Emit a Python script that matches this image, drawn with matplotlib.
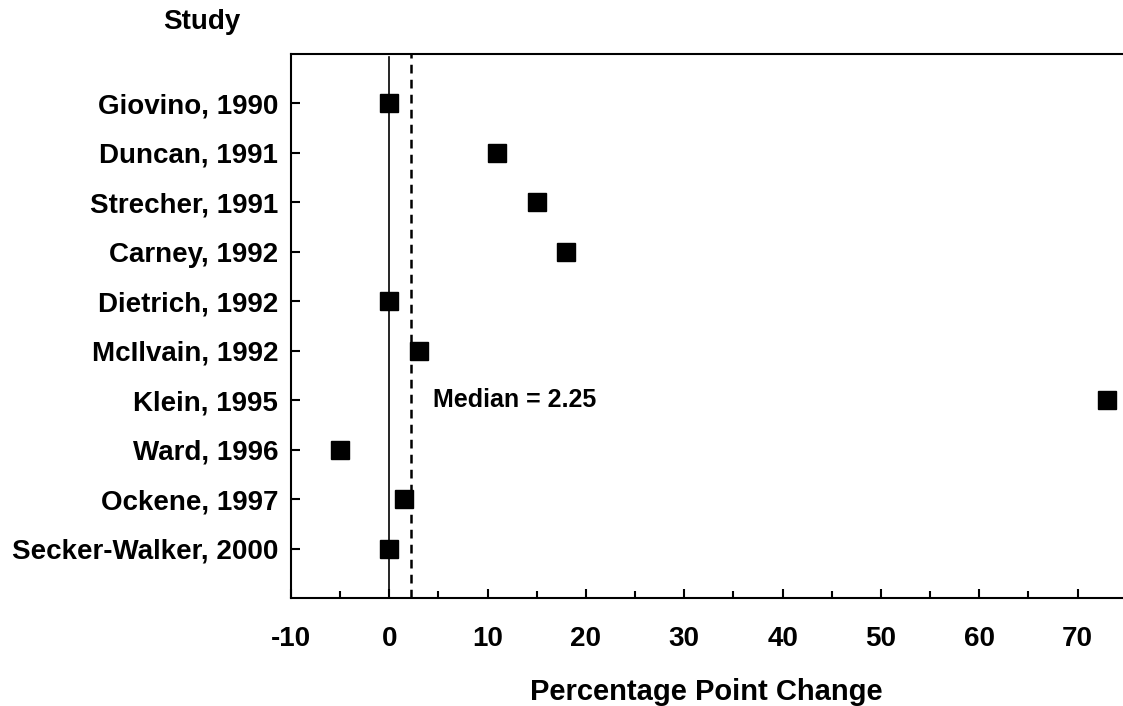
import matplotlib
matplotlib.use("Agg")
import matplotlib.pyplot as plt
from matplotlib.ticker import MultipleLocator

studies = ["Giovino, 1990", "Duncan, 1991", "Strecher, 1991", "Carney, 1992",
           "Dietrich, 1992", "McIlvain, 1992", "Klein, 1995", "Ward, 1996",
           "Ockene, 1997", "Secker-Walker, 2000"]
changes = [0, 11, 15, 18, 0, 3, 73, -5, 1.5, 0]
median_value = 2.25
x_ticks = [-10, 0, 10, 20, 30, 40, 50, 60, 70]

plt.rcParams['font.family'] = ['Liberation Sans', 'DejaVu Sans']
plt.rcParams['font.weight'] = 'bold'

fig = plt.figure(figsize=(11.23, 7.06), dpi=100)
ax = fig.add_axes([0.259, 0.153, 0.740, 0.7705])

ypos = list(range(1, len(studies) + 1))
ax.axvline(0, color='black', lw=1.2, ymin=0, ymax=0.995, zorder=1)
ax.axvline(median_value, color='black', lw=1.8, ls=(0, (3.5, 2.5)), zorder=1)
ax.plot(changes, ypos, ls='none', marker='s', ms=12.5, color='black', zorder=3)

ax.text(4.5, 7, f"Median = {median_value}", fontsize=18, fontweight='bold',
        va='center', ha='left')

ax.set_xlim(-10, 74.5)
ax.set_ylim(11, 0)
ax.set_xticks(x_ticks)
ax.set_xticklabels([str(t) for t in x_ticks])
ax.xaxis.set_minor_locator(MultipleLocator(5))
ax.set_yticks(ypos)
ax.set_yticklabels(studies)

for s in ['left', 'top', 'bottom']:
    ax.spines[s].set_linewidth(1.5)
ax.spines['right'].set_visible(False)

ax.tick_params(axis='x', which='major', direction='in', length=6.5, width=1.5,
               labelsize=20, pad=20)
ax.tick_params(axis='x', which='minor', direction='in', length=4.8, width=1.5)
ax.tick_params(axis='y', which='major', direction='in', length=6.5, width=1.5,
               labelsize=20, pad=9)
for lab in ax.get_xticklabels() + ax.get_yticklabels():
    lab.set_fontweight('bold')

ax.set_xlabel("Percentage Point Change", fontsize=21, fontweight='bold', labelpad=19)
fig.text(202 / 1123, 1 - 22 / 706, "Study", fontsize=20, fontweight='bold',
         ha='center', va='center')

fig.savefig("out.png", dpi=100)
